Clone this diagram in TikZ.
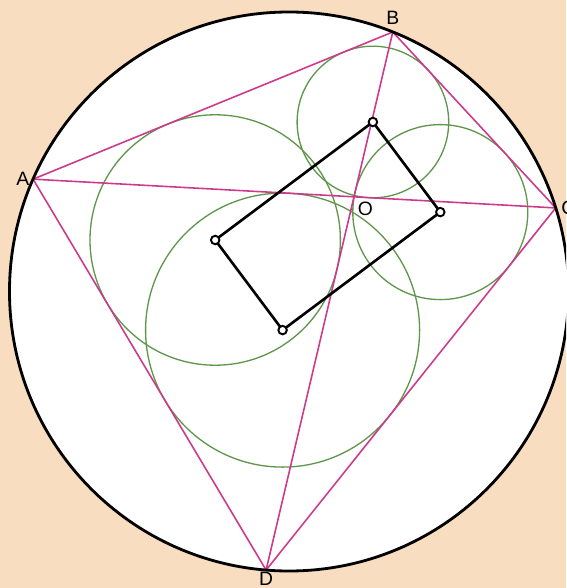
\documentclass[tikz,border=0pt]{standalone}
\usepackage{fontspec}
\setmainfont{Liberation Sans}
\usetikzlibrary{positioning}

\definecolor{peach}{RGB}{249,221,192}
\definecolor{chordcol}{RGB}{204,58,140}
\definecolor{inccol}{RGB}{95,150,75}

\begin{document}
\begin{tikzpicture}[
  x=0.02cm,y=0.02cm,
  outer/.style={draw,line width=1.6pt},
  chord/.style={draw=chordcol,line width=0.9pt},
  incirc/.style={draw=inccol,line width=0.75pt},
  rect/.style={draw,line width=1.5pt,line join=round},
  dot/.style={draw,circle,fill=white,line width=1.1pt,inner sep=0pt,minimum size=0.17cm},
  lab/.style={font=\fontsize{11}{13}\selectfont,inner sep=1pt}
]

% frame
\fill[peach] (-289,291.5) rectangle (277,-296.5);
\useasboundingbox (-289,291.5) rectangle (277,-296.5);
\clip (-289,291.5) rectangle (277,-296.5);

% circle and its four points
\coordinate (O) at (0,0);
\fill[white] (O) circle (279.5);
\coordinate (A) at (156.3:279.5);
\coordinate (B) at (68.2:279.5);
\coordinate (C) at (17.4:279.5);
\coordinate (D) at (265.3:279.5);
\coordinate (P) at (65.1,94.7);

% incentres
\coordinate (Iabc) at (83.9,169.5);
\coordinate (Ibcd) at (151.3,79.4);
\coordinate (Icda) at (-6.4,-38.6);
\coordinate (Idab) at (-73.8,51.5);

\draw[incirc] (Iabc) circle (75.8);
\draw[incirc] (Ibcd) circle (87.5);
\draw[incirc] (Icda) circle (137.0);
\draw[incirc] (Idab) circle (125.2);

\draw[chord] (A) -- (B) -- (C) -- (D) -- cycle;
\draw[chord] (A) -- (C);
\draw[chord] (B) -- (D);

\draw[outer] (O) circle (279.5);

\draw[rect] (Iabc) -- (Ibcd) -- (Icda) -- (Idab) -- cycle;
\foreach \p in {Iabc,Ibcd,Icda,Idab}
  \node[dot] (dot-\p) at (\p) {};

% labels
\node[lab,left=1pt of A] (labA) {A};
\node[lab,above=3pt of B] (labB) {B};
\node[lab,right=2pt of C] (labC) {C};
\node[lab,below=0pt of D] (labD) {D};
\node[lab,below right=2pt and 1pt of P] (labO) {O};

\end{tikzpicture}
\end{document}
